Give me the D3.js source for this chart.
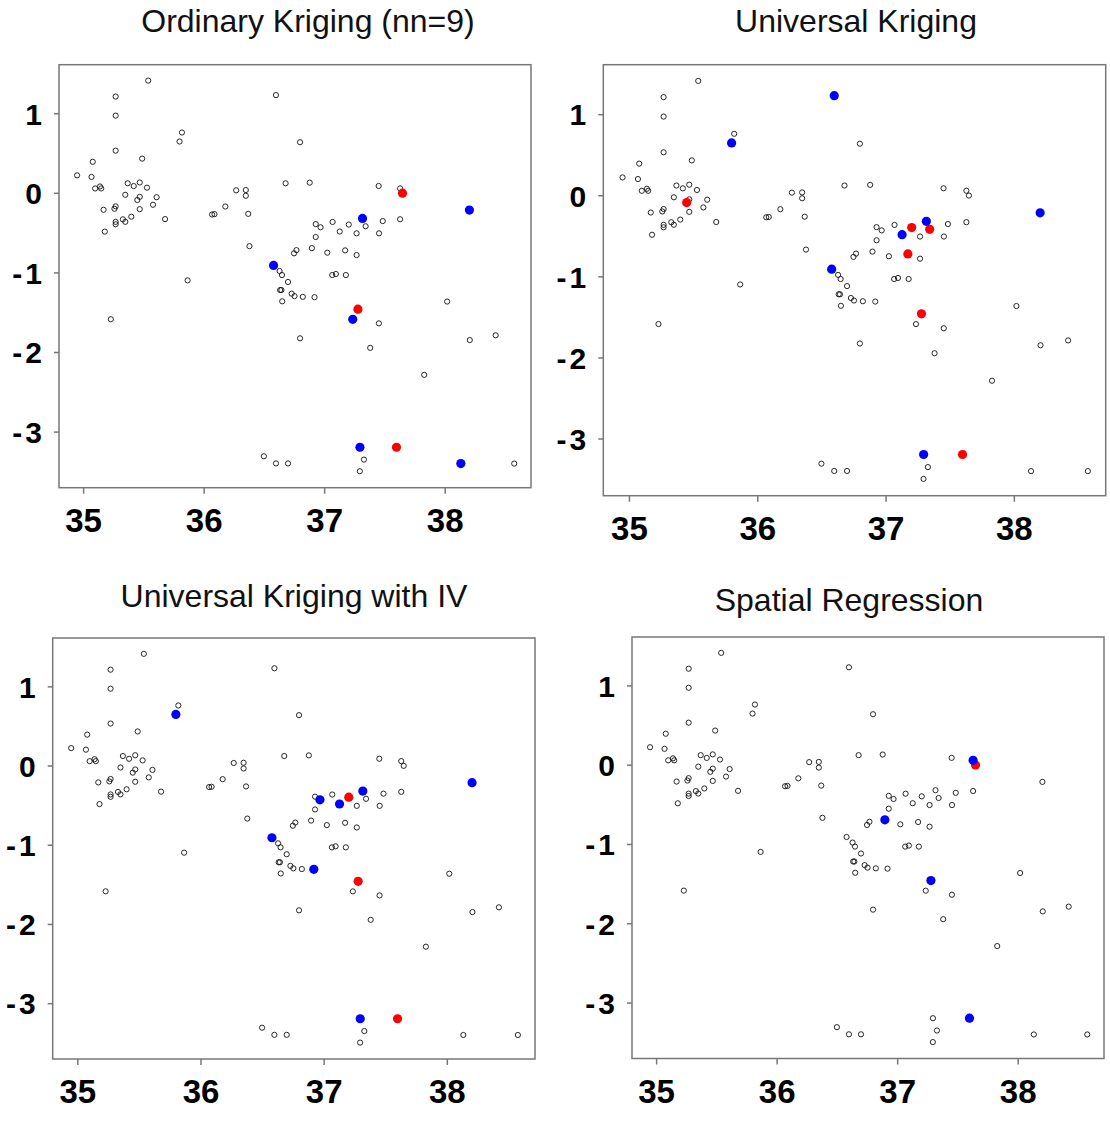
<!DOCTYPE html>
<html>
<head>
<meta charset="utf-8">
<script src="https://cdn.jsdelivr.net/npm/d3@7"></script>
<style>
  body { margin: 0; background: #fff; }
  svg { display: block; }
</style>
</head>
<body>
<svg width="1110" height="1124"></svg>
<script>
// station locations [lon, lat]
const stations = [
  [35.54, 1.41], [35.27, 1.21], [35.27, 0.97], [35.27, 0.53], [35.08, 0.39],
  [35.49, 0.43], [34.95, 0.22], [35.07, 0.20], [35.14, 0.08], [35.15, 0.055],
  [35.10, 0.055], [35.37, 0.12], [35.42, 0.085], [35.47, 0.13], [35.53, 0.065],
  [35.35, -0.025], [35.47, -0.05], [35.45, -0.09], [35.61, -0.055], [35.58, -0.15],
  [35.47, -0.205], [35.27, -0.17], [35.26, -0.20], [35.17, -0.213], [35.68, -0.33],
  [35.27, -0.365], [35.27, -0.395], [35.33, -0.333], [35.35, -0.364], [35.40, -0.30],
  [35.18, -0.487], [35.80, 0.645], [35.82, 0.758],
  [36.27, 0.032], [36.35, 0.035], [36.35, -0.037], [36.18, -0.172], [36.07, -0.272],
  [36.09, -0.268], [36.37, -0.264], [36.38, -0.67], [36.60, 1.228], [36.80, 0.636],
  [36.68, 0.12], [36.88, 0.128], [36.75, -0.76], [36.77, -0.72], [36.58, -0.912],
  [36.63, -0.982], [36.65, -1.033], [36.70, -1.12], [36.635, -1.221], [36.645, -1.221],
  [36.73, -1.267], [36.754, -1.298], [36.823, -1.307], [36.92, -1.311], [36.652, -1.363],
  [36.80, -1.828], [35.867, -1.10], [35.23, -1.588], [36.50, -3.31], [36.60, -3.40],
  [36.70, -3.40],
  [37.452, 0.086], [37.63, 0.056], [37.65, -0.004], [38.205, -0.217], [37.318, -0.322],
  [37.344, -0.42], [37.486, -0.355], [37.63, -0.332], [37.455, -0.509], [36.93, -0.393],
  [36.97, -0.433], [37.07, -0.366], [37.204, -0.399], [37.129, -0.486], [37.269, -0.509],
  [36.93, -0.555], [36.898, -0.695], [37.026, -0.752], [37.174, -0.723], [37.269, -0.782],
  [37.067, -1.033], [37.097, -1.02], [37.18, -1.033], [37.28, -1.462], [37.237, -1.589],
  [37.454, -1.64], [37.382, -1.948], [38.02, -1.366], [38.208, -1.85], [38.423, -1.79],
  [37.83, -2.287], [37.297, -3.197], [37.60, -3.197], [37.33, -3.352], [37.296, -3.498],
  [38.134, -3.402], [38.577, -3.402]
];

const xTicks = [35, 36, 37, 38];
const yTicks = [1, 0, -1, -2, -3];

const titles = [
  "Ordinary Kriging (nn=9)",
  "Universal Kriging",
  "Universal Kriging with IV",
  "Spatial Regression"
];

// highlighted stations per panel
const blue1 = [[38.205, -0.217], [37.318, -0.322], [36.58, -0.912], [37.237, -1.589], [37.297, -3.197], [38.134, -3.402]];
const red1 = [[37.65, -0.004], [37.28, -1.462], [37.60, -3.197]];

const blue2 = [[36.60, 1.228], [35.80, 0.645], [36.58, -0.912], [38.205, -0.217], [37.318, -0.322], [37.129, -0.486], [37.297, -3.197]];
const red2 = [[35.45, -0.09], [37.204, -0.399], [37.344, -0.42], [37.174, -0.723], [37.28, -1.462], [37.60, -3.197]];

const blue3 = [[35.80, 0.645], [36.97, -0.433], [36.58, -0.912], [37.129, -0.486], [37.318, -0.322], [38.205, -0.217], [36.92, -1.311], [37.297, -3.197]];
const red3 = [[37.204, -0.399], [37.28, -1.462], [37.60, -3.197]];

const blue4 = [[37.63, 0.056], [36.898, -0.695], [37.28, -1.462], [37.60, -3.197]];
const red4 = [[37.65, -0.004]];

const xDomain = [34.80, 38.716];
const yDomain = [-3.705, 1.61];

const panels = [
  { box: [59, 64.7, 531, 487.7], tx: 308, ty: 32, blue: blue1, red: red1 },
  { box: [603.3, 64.7, 1105.7, 495.7], tx: 856, ty: 32, blue: blue2, red: red2 },
  { box: [52.7, 638, 535, 1059], tx: 294, ty: 607, blue: blue3, red: red3 },
  { box: [632, 637, 1104, 1058.5], tx: 849, ty: 611, blue: blue4, red: red4 }
];

const svg = d3.select("svg");
const fmt = d => String(d);   // plain hyphen, like R

panels.forEach((p, i) => {
  const [x0, y0, x1, y1] = p.box;
  const x = d3.scaleLinear().domain(xDomain).range([x0, x1]);
  const y = d3.scaleLinear().domain(yDomain).range([y1, y0]);
  const g = svg.append("g");

  g.append("text")
    .attr("x", p.tx)
    .attr("y", p.ty)
    .attr("text-anchor", "middle")
    .style("font-family", "'Liberation Sans', Arial, sans-serif")
    .style("font-size", "32px")
    .style("fill", "#111")
    .text(titles[i]);

  const xAxis = g.append("g")
    .attr("transform", `translate(0,${y1})`)
    .call(d3.axisBottom(x).tickValues(xTicks).tickSize(6).tickPadding(15).tickFormat(fmt));
  const yAxis = g.append("g")
    .attr("transform", `translate(${x0},0)`)
    .call(d3.axisLeft(y).tickValues(yTicks).tickSize(5).tickPadding(9).tickFormat(fmt));

  [xAxis, yAxis].forEach(a => {
    a.select(".domain").remove();
    a.selectAll("line").attr("stroke", "#777").attr("stroke-width", 1.5);
    a.selectAll("text")
      .style("font-family", "'Liberation Sans', Arial, sans-serif")
      .style("font-weight", "bold")
      .style("fill", "#000");
  });
  xAxis.selectAll("text").style("font-size", "33px");
  yAxis.selectAll("text")
    .style("font-size", "30px")
    .style("letter-spacing", "3px")
    .attr("dy", "0.36em");

  g.append("rect")
    .attr("x", x0)
    .attr("y", y0)
    .attr("width", x1 - x0)
    .attr("height", y1 - y0)
    .attr("fill", "none")
    .attr("stroke", "#777")
    .attr("stroke-width", 1.5);

  g.selectAll(".stn")
    .data(stations)
    .enter().append("circle")
    .attr("class", "stn")
    .attr("cx", d => x(d[0]))
    .attr("cy", d => y(d[1]))
    .attr("r", 2.6)
    .attr("fill", "none")
    .attr("stroke", "#111")
    .attr("stroke-width", 0.9);

  g.selectAll(".red")
    .data(p.red)
    .enter().append("circle")
    .attr("class", "red")
    .attr("cx", d => x(d[0]))
    .attr("cy", d => y(d[1]))
    .attr("r", 4.6)
    .attr("fill", "#ff0000");

  g.selectAll(".blue")
    .data(p.blue)
    .enter().append("circle")
    .attr("class", "blue")
    .attr("cx", d => x(d[0]))
    .attr("cy", d => y(d[1]))
    .attr("r", 4.6)
    .attr("fill", "#0000ff");
});
</script>
</body>
</html>
